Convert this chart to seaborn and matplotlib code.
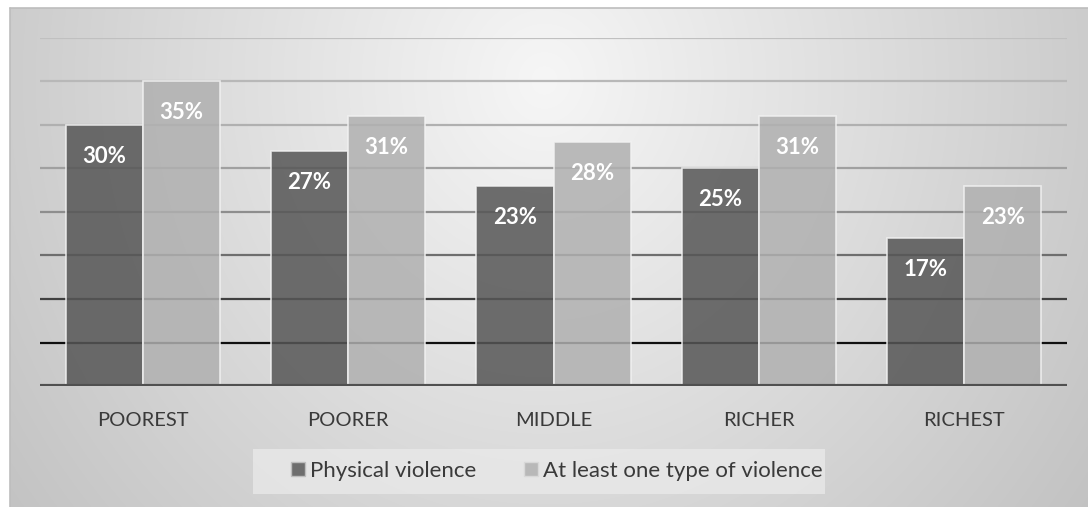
import numpy as np
import pandas as pd
import matplotlib
matplotlib.use("Agg")
import matplotlib.pyplot as plt
from matplotlib.patches import Patch, Rectangle
import seaborn as sns

categories = ["POOREST", "POORER", "MIDDLE", "RICHER", "RICHEST"]
series_names = ["Physical violence", "At least one type of violence"]
physical = [30, 27, 23, 25, 17]
at_least_one = [35, 31, 28, 31, 23]
y_ticks = [0, 5, 10, 15, 20, 25, 30, 35, 40]

df = pd.DataFrame({
    "group": categories * 2,
    "series": [series_names[0]] * 5 + [series_names[1]] * 5,
    "value": physical + at_least_one,
})

sns.set_theme(style="white")
plt.rcParams["font.family"] = ["Lato", "DejaVu Sans"]

W, H = 1088, 507
fig = plt.figure(figsize=(W / 100, H / 100), dpi=100)
fig.patch.set_facecolor("white")

# background gradient
bg = fig.add_axes([0, 0, 1, 1], zorder=0)
yy, xx = np.mgrid[0:H, 0:W]
r = np.sqrt(((xx - 544) / 600.0) ** 2 + ((yy - 80) / 650.0) ** 2)
val = np.clip(246 - 46 * r, 190, 250) / 255.0
img = np.stack([val, val, val], axis=-1)
img[:8, :, :] = 1.0
img[:, :10, :] = 1.0
bg.imshow(img, extent=[0, W, H, 0], aspect="auto", interpolation="bilinear")
bg.plot([10, W], [8, 8], color="#bdbdbd", lw=1.2)
bg.plot([10, 10], [8, H], color="#bdbdbd", lw=1.2)
# legend box
bg.add_patch(Rectangle((253, 449), 572, 45, facecolor="#eaeaea", edgecolor="none", alpha=0.75))
bg.set_xlim(0, W)
bg.set_ylim(H, 0)
bg.axis("off")

ax = fig.add_axes([40 / W, 121 / H, 1027 / W, 348 / H], zorder=1)
ax.patch.set_alpha(0)

palette = {series_names[0]: "#565656", series_names[1]: "#b0b0b0"}
sns.barplot(data=df, x="group", y="value", hue="series", order=categories,
            hue_order=series_names, palette=palette, width=0.75, saturation=1,
            alpha=0.85, edgecolor="#f2f2f2", linewidth=1.2, ax=ax, legend=False,
            zorder=2)

grid_colors = ["#101010", "#404040", "#6e6e6e", "#8e8e8e", "#a0a0a0", "#b0b0b0", "#b8b8b8", "#c0c0c0"]
for yv, c in zip(y_ticks[1:], grid_colors):
    ax.axhline(yv, color=c, lw=1.6, zorder=1)
ax.axhline(0, color="#505050", lw=3, zorder=3)

for cont, vals in zip(ax.containers, [physical, at_least_one]):
    ax.bar_label(cont, labels=[f"{v}%" for v in vals], padding=-30,
                 color="white", fontweight="bold", fontsize=16, zorder=4)

ax.set_ylim(0, 40)
ax.set_xlim(-0.5, 4.5)
ax.set_yticks([])
ax.set_xlabel("")
ax.set_ylabel("")
ax.tick_params(axis="x", length=0, pad=18.5, labelsize=14.5, labelcolor="#3a3a3a")
for s in ax.spines.values():
    s.set_visible(False)

handles = [Patch(facecolor="#6e6e6e", edgecolor="#bdbdbd", lw=1),
           Patch(facecolor="#b8b8b8", edgecolor="#d8d8d8", lw=1)]
leg = fig.legend(handles, series_names, loc="center", bbox_to_anchor=(557 / W, 1 - 471 / H),
                 ncol=2, frameon=False, fontsize=16, handlelength=0.63, handleheight=0.63,
                 handletextpad=0.22, columnspacing=2.15, borderpad=0, borderaxespad=0)
for t in leg.get_texts():
    t.set_color("#3a3a3a")

fig.savefig("out.png", dpi=100)
